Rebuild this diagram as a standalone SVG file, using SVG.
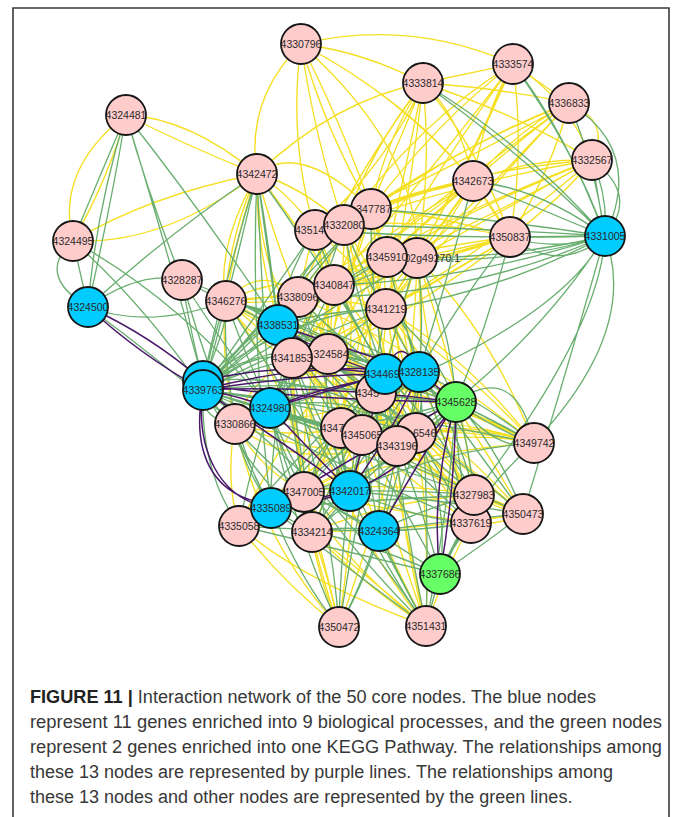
<svg xmlns="http://www.w3.org/2000/svg" width="673" height="817" viewBox="0 0 673 817">
<style>
.y{fill:none;stroke:#F5DF22;stroke-width:1.35}
.g{fill:none;stroke:#68AE6E;stroke-width:1.3}
.p{fill:none;stroke:#4A1769;stroke-width:1.5}
circle{stroke:#161616;stroke-width:1.8}
.pk{fill:#FFCCCC}.bl{fill:#00CCFF}.gr{fill:#66FF66}
.lb{font-family:"Liberation Sans",Arial,sans-serif;font-size:10.5px;fill:#2a2a2a;text-anchor:middle}
.ls{text-anchor:start}.le{text-anchor:end}
.cap{font-family:"Liberation Sans",Arial,sans-serif;font-size:18px;fill:#383838}
</style>
<rect width="673" height="817" fill="#fff"/>
<path d="M13 817V8H669V817" fill="none" stroke="#3a3a3a" stroke-width="1.6"/>

<g id="connectors">
<g class="y">
<path d="M301 44Q365 52 423 83M301 44Q410 18 513 64M301 44Q245 100 257 174M301 44Q325 130 371 209M301 44Q315 140 344 225M301 44Q400 95 473 181M301 44Q445 120 510 237M301 44Q355 150 387 257M301 44Q288 140 315 230M301 44Q420 150 417 258"/>
<path d="M423 83L513 64M423 83Q500 88 569 103M423 83Q520 115 592 160M423 83Q460 115 473 181M423 83Q480 150 510 237M423 83Q385 140 371 209M423 83Q370 150 344 225M423 83Q405 170 387 257M423 83Q432 170 417 258M423 83Q410 200 386 309M423 83Q335 100 257 174M423 83Q350 180 298 297M423 83Q380 190 334 285M423 83Q390 160 315 230"/>
<path d="M513 64L569 103M513 64Q568 98 592 160M513 64Q485 110 473 181M513 64Q525 150 510 237M513 64Q440 118 371 209M513 64Q450 150 387 257M513 64Q470 160 417 258M513 64Q462 185 386 309M513 64Q420 120 344 225M513 64Q440 160 334 285"/>
<path d="M569 103Q612 122 592 160M569 103Q520 128 473 181M569 103Q552 170 510 237M569 103Q470 140 371 209M569 103Q480 170 387 257M569 103Q500 178 417 258M569 103Q480 200 386 309M569 103Q450 150 344 225M569 103Q450 190 334 285M569 103Q430 180 315 230"/>
<path d="M592 160Q530 158 473 181M592 160Q560 200 510 237M592 160Q480 168 371 209M592 160Q490 200 387 257M592 160Q505 210 417 258M592 160Q500 240 386 309M592 160Q470 180 344 225M592 160Q470 230 334 285M592 160Q460 210 298 297"/>
<path d="M473 181L510 237M473 181Q420 188 371 209M473 181Q410 192 344 225M473 181Q430 220 387 257M473 181L417 258M473 181Q440 240 386 309M473 181Q400 232 334 285M473 181Q390 232 298 297M473 181Q390 198 315 230M473 181Q420 262 328 354"/>
<path d="M510 237Q440 215 371 209M510 237Q430 218 344 225M510 237Q450 245 387 257M510 237L417 258M510 237Q452 272 386 309M510 237Q420 262 334 285M510 237Q400 272 298 297M510 237Q430 300 328 354M510 237Q410 300 292 358"/>
<path d="M257 174Q235 240 226 301M257 174Q272 232 298 297M257 174Q288 192 315 230M257 174Q300 185 344 225M257 174Q300 140 371 209M257 174Q190 118 126 115M257 174Q185 145 126 115M257 174Q150 195 73 241M257 174Q165 245 73 241M257 174Q255 270 292 358M257 174Q300 228 334 285M257 174Q205 290 235 424M257 174Q215 250 226 301M257 174Q258 300 328 354"/>
<path d="M126 115Q55 170 73 241M126 115Q110 175 73 241"/>
<path d="M226 301Q262 262 298 297M226 301Q280 275 334 285M226 301Q275 335 328 354M226 301Q305 290 386 309M226 301Q255 345 292 358M226 301Q300 340 376 393M226 301Q300 360 362 435M226 301Q300 330 341 428M226 301Q320 310 417 258M226 301Q300 300 387 257"/>
<path d="M235 424Q290 440 341 428M235 424Q320 460 397 446M235 424Q260 470 304 492M235 424Q225 480 239 526M235 424Q260 540 339 627M235 424Q250 380 292 358M235 424Q290 390 328 354M235 424Q300 480 416 433"/>
<path d="M315 230Q360 265 386 309M315 230Q295 295 292 358M315 230Q330 290 328 354M315 230Q355 310 376 393M315 230Q350 330 362 435M344 225Q370 265 386 309M344 225Q345 290 328 354M344 225Q370 310 376 393M344 225Q390 330 397 446M344 225Q310 300 292 358M371 209Q385 255 386 309M371 209Q345 280 328 354M371 209Q385 300 376 393M371 209Q375 330 362 435M371 209Q410 320 416 433M371 209Q330 250 298 297"/>
<path d="M387 257Q355 300 328 354M387 257Q335 300 292 358M387 257Q355 340 341 428M387 257Q405 350 397 446M387 257Q360 380 304 492M417 258Q405 280 386 309M417 258Q400 320 376 393M417 258Q415 350 397 446M417 258Q425 340 416 433M417 258Q460 380 474 495M417 258Q490 330 534 443M417 258Q380 290 334 285"/>
<path d="M334 285Q300 320 292 358M334 285Q365 340 376 393M334 285Q325 360 341 428M334 285Q300 390 304 492M334 285Q300 410 312 532M298 297Q320 320 328 354M298 297Q345 340 376 393M298 297Q335 370 362 435M386 309Q385 350 376 393M386 309Q400 380 397 446M386 309Q410 370 416 433M386 309Q440 410 471 523M386 309Q470 360 534 443"/>
<path d="M292 358Q330 390 362 435M292 358Q290 420 304 492M292 358Q295 450 312 532M292 358Q400 400 474 495M328 354Q370 400 397 446M328 354Q385 380 416 433M328 354Q410 440 471 523M328 354Q320 440 312 532M376 393Q330 440 304 492M376 393Q340 460 312 532M376 393Q430 430 474 495M376 393Q450 450 523 514"/>
<path d="M341 428Q410 450 474 495M341 428Q430 480 523 514M341 428Q440 410 534 443M362 435Q450 425 534 443M362 435Q420 490 471 523M362 435Q440 480 523 514M362 435Q350 540 339 627M397 446Q470 430 534 443M397 446Q460 490 523 514M397 446Q370 540 339 627M397 446Q350 490 312 532M416 433Q480 425 534 443M416 433Q450 480 471 523M416 433Q470 470 523 514"/>
<path d="M304 492Q390 480 474 495M304 492Q390 510 471 523M304 492Q420 450 534 443M304 492Q315 560 339 627M239 526Q280 580 339 627M239 526Q320 480 397 446M239 526Q300 400 386 309M312 532Q390 500 474 495M312 532Q420 530 523 514M312 532Q330 580 339 627M312 532Q370 590 426 626"/>
<path d="M474 495Q500 500 523 514M474 495Q500 510 523 514M471 523Q500 515 523 514M471 523Q497 526 523 514M534 443Q400 380 292 358M534 443Q430 390 328 354M534 443Q420 350 298 297M534 443Q440 340 334 285M534 443Q460 400 376 393M534 443Q470 420 416 433"/>
<path d="M339 627Q300 540 292 358M339 627Q325 560 304 492M426 626Q340 560 304 492M426 626Q360 570 312 532M426 626Q400 530 397 446M426 626Q390 520 362 435M426 626Q370 520 341 428M426 626Q400 500 376 393M426 626Q340 520 292 358M426 626Q300 580 239 526M426 626Q430 520 416 433M426 626Q450 560 471 523"/>
<path d="M315 230Q330 320 341 428M344 225Q360 330 341 428M371 209Q350 300 292 358M387 257Q420 350 416 433M417 258Q430 380 471 523M334 285Q400 360 416 433M298 297Q360 380 397 446M292 358Q360 420 416 433M328 354Q340 400 362 435M376 393Q390 410 397 446M341 428Q320 470 304 492M362 435Q330 480 312 532M416 433Q350 470 304 492M397 446Q440 460 474 495M386 309Q470 420 523 514M328 354Q440 420 523 514M292 358Q420 430 471 523M235 424Q330 420 376 393M226 301Q300 400 304 492M239 526Q330 440 416 433"/>
</g>
<g class="g">
<path d="M605 236Q520 140 423 83M423 83Q530 160 605 236M605 236Q565 130 513 64M513 64Q575 150 605 236M605 236Q595 165 569 103M605 236Q645 150 569 103M605 236L592 160M605 236Q608 195 592 160M605 236Q640 195 592 160M605 236Q540 188 473 181M605 236Q530 205 473 181M605 236L510 237M605 236Q555 252 510 237M605 236Q560 275 510 237"/>
<path d="M605 236Q490 218 371 209M605 236Q480 228 344 225M605 236Q510 258 417 258M605 236Q500 268 387 257M605 236Q500 292 386 309M605 236Q470 280 334 285M605 236Q460 300 298 297M605 236Q460 240 315 230M605 236Q640 330 534 443M605 236Q600 330 474 495M605 236Q560 320 376 393M605 236Q540 340 416 433M605 236Q570 360 523 514"/>
<path d="M88 307Q112 200 126 115M88 307Q96 210 126 115M88 307Q35 275 73 241M88 307L73 241M88 307Q170 232 257 174M88 307Q140 270 182 280M88 307Q150 330 226 301M88 307Q160 360 235 424"/>
<path d="M126 115Q98 180 73 241M126 115Q150 200 182 280M126 115Q205 215 278 325M126 115Q170 260 203 381M73 241Q140 300 203 390M73 241Q180 300 270 408"/>
<path d="M257 174L278 325M257 174Q225 280 203 381M257 174Q230 290 203 390M257 174Q262 300 270 408M257 174Q320 260 385 374M257 174Q270 250 278 325M257 174Q250 330 271 508"/>
<path d="M182 280Q230 295 278 325M182 280Q190 330 203 381M182 280Q220 340 270 408M182 280Q215 400 271 508M182 280Q280 330 385 374M226 301Q252 305 278 325M226 301Q210 345 203 390M226 301Q245 355 270 408M226 301Q290 400 350 491M226 301Q310 320 385 374M226 301Q320 320 419 372M226 301Q220 420 271 508"/>
<path d="M278 325Q285 275 315 230M278 325Q300 270 344 225M278 325Q320 260 371 209M278 325Q330 285 387 257M278 325Q345 280 417 258M278 325Q330 310 386 309M278 325Q300 330 328 354M278 325L298 297M278 325Q310 300 334 285M278 325Q330 360 376 393M278 325Q310 380 341 428M278 325Q320 385 362 435M278 325Q350 390 397 446M278 325Q360 380 416 433M278 325Q290 410 304 492M278 325Q300 430 312 532M278 325Q380 410 474 495M278 325Q380 440 471 523M278 325Q420 380 534 443M278 325Q410 420 523 514M278 325Q330 500 339 627"/>
<path d="M203 390Q260 330 298 297M203 390Q270 330 334 285M203 390Q250 350 292 358M203 390Q265 360 328 354M203 390Q300 340 386 309M203 390Q290 380 376 393M203 390Q270 410 341 428M203 390Q290 420 362 435M203 390Q300 420 397 446M203 390Q310 405 416 433M203 390Q370 410 534 443M203 390Q250 450 304 492M203 390Q250 470 312 532M203 390Q340 450 474 495M203 390Q340 470 471 523M203 390Q260 310 315 230M203 390Q280 300 344 225M203 390Q290 290 371 209M203 390Q300 310 387 257M203 390Q310 320 417 258M203 390Q200 420 235 424M203 390Q200 470 239 526M203 390Q360 440 523 514M203 390Q330 480 426 626"/>
<path d="M203 381Q230 320 226 301M203 381Q270 320 298 297M203 381Q300 310 386 309M203 381Q280 340 328 354M203 381Q320 370 416 433"/>
<path d="M385 374Q340 300 315 230M385 374Q355 300 344 225M385 374Q370 290 371 209M385 374Q360 330 334 285M385 374Q330 330 298 297M385 374Q300 320 226 301M385 374Q330 360 292 358M385 374Q360 400 341 428M385 374Q330 430 304 492M385 374Q340 460 312 532M385 374Q300 450 239 526M385 374Q300 400 235 424M385 374Q440 430 474 495M385 374Q430 460 471 523M385 374Q400 500 426 626M385 374Q460 400 534 443M385 374Q400 310 417 258M385 374Q380 420 397 446M385 374Q360 500 339 627"/>
<path d="M419 372Q410 320 386 309M419 372Q425 310 417 258M419 372Q400 310 387 257M419 372Q460 300 510 237M419 372Q450 270 473 181M419 372Q420 410 397 446M419 372Q425 400 416 433M419 372Q460 430 474 495M419 372Q450 450 471 523M419 372Q470 440 523 514M419 372Q480 400 534 443M419 372Q430 500 426 626M419 372Q360 430 304 492M419 372Q370 450 312 532M419 372Q370 360 328 354M419 372Q360 340 292 358M419 372Q360 270 344 225M419 372Q400 400 376 393M419 372Q390 540 339 627"/>
<path d="M456 402Q515 360 534 443M456 402Q495 430 534 443M456 402Q500 455 534 443M456 402Q470 450 474 495M456 402Q455 460 471 523M456 402Q500 450 523 514M456 402Q425 440 397 446M456 402Q430 410 416 433M456 402Q410 400 376 393M456 402Q410 420 362 435M456 402Q450 500 426 626M456 402Q430 340 386 309M456 402Q450 320 417 258M456 402Q490 320 510 237M456 402Q400 470 304 492M456 402Q380 480 312 532M456 402Q420 370 328 354M456 402Q380 380 292 358M456 402Q390 420 341 428"/>
<path d="M270 408Q290 360 298 297M270 408Q285 380 292 358M270 408Q300 370 328 354M270 408Q320 380 376 393M270 408Q300 420 341 428M270 408Q320 430 362 435M270 408Q330 440 397 446M270 408Q280 450 304 492M270 408Q285 470 312 532M270 408Q250 470 239 526M270 408Q300 350 334 285M270 408Q320 350 386 309M270 408Q290 520 339 627M270 408Q380 440 474 495M270 408L235 424M270 408Q320 300 344 225M270 408Q350 390 416 433"/>
<path d="M350 491Q340 460 341 428M350 491Q360 460 362 435M350 491Q380 470 397 446M350 491Q390 460 416 433M350 491Q320 420 328 354M350 491Q310 420 292 358M350 491Q330 380 298 297M350 491Q370 400 386 309M350 491Q330 520 312 532M350 491Q420 490 474 495M350 491Q420 520 471 523M350 491Q440 500 523 514M350 491Q380 560 426 626M350 491Q340 560 339 627M350 491Q330 485 304 492M350 491Q440 450 534 443M350 491Q360 390 376 393"/>
<path d="M271 508Q290 500 304 492M271 508Q290 520 312 532M271 508Q255 520 239 526M271 508Q300 580 339 627M271 508Q350 570 426 626M271 508Q240 460 235 424M271 508Q270 430 292 358M271 508Q320 450 376 393M271 508Q320 470 362 435M271 508Q300 460 341 428M271 508Q370 500 474 495"/>
<path d="M379 531Q345 525 312 532M379 531Q340 510 304 492M379 531Q390 490 397 446M379 531Q410 480 416 433M379 531Q370 480 362 435M379 531Q420 510 474 495M379 531Q425 530 471 523M379 531Q450 520 523 514M379 531Q400 580 426 626M379 531Q360 590 339 627M379 531Q300 530 239 526M379 531Q380 450 376 393"/>
<path d="M440 574L426 626M440 574Q450 550 471 523M440 574Q460 540 474 495M440 574Q490 540 523 514M440 574Q420 500 397 446M440 574Q400 500 362 435M440 574Q360 540 312 532M440 574Q360 520 304 492M440 574Q450 500 416 433M440 574Q470 500 534 443M440 574Q300 540 239 526M426 626Q300 500 270 408M426 626Q330 450 278 325"/>
</g>
<g class="p">
<path d="M88 307Q140 355 203 390M88 307Q150 335 203 381M203 390Q237 395 270 408M203 390Q295 375 385 374M203 390Q310 360 419 372M203 390Q330 385 456 402M203 385Q300 400 456 402M203 390Q280 440 350 491M203 390C195 450 220 500 271 508M203 390C185 480 240 530 350 491"/>
<path d="M270 408Q310 450 350 491M270 408Q330 390 385 374M270 408Q340 380 419 372M271 508Q310 500 350 491M350 491Q370 420 385 374M350 491Q400 420 419 372M350 491Q410 470 456 402M456 402Q430 490 440 574M456 402Q455 490 440 574M379 531Q420 460 456 402M419 372L456 402M385 374Q400 330 419 372M278 325Q330 360 385 374M278 325Q350 350 419 372M203 381Q290 360 385 374M271 508Q380 440 456 402"/>
</g>
</g>

<g id="nodes">
<g id="n4330796"><circle cx="301" cy="44" r="20" class="pk"/><text class="lb" x="301" y="47.7">4330796</text></g>
<g id="n4333574"><circle cx="513" cy="64" r="20" class="pk"/><text class="lb" x="513" y="67.7">4333574</text></g>
<g id="n4333814"><circle cx="423" cy="83" r="20" class="pk"/><text class="lb" x="423" y="86.7">4333814</text></g>
<g id="n4336833"><circle cx="569" cy="103" r="20" class="pk"/><text class="lb" x="569" y="106.7">4336833</text></g>
<g id="n4324481"><circle cx="126" cy="115" r="20" class="pk"/><text class="lb" x="126" y="118.7">4324481</text></g>
<g id="n4332567"><circle cx="592" cy="160" r="20" class="pk"/><text class="lb" x="592" y="163.7">4332567</text></g>
<g id="n4342472"><circle cx="257" cy="174" r="20" class="pk"/><text class="lb" x="257" y="177.7">4342472</text></g>
<g id="n4342673"><circle cx="473" cy="181" r="20" class="pk"/><text class="lb" x="473" y="184.7">4342673</text></g>
<g id="n43514"><circle cx="315" cy="230" r="20" class="pk"/><text class="lb ls" x="295" y="233.7">43514</text></g>
<g id="n4347787"><circle cx="371" cy="209" r="20" class="pk"/><text class="lb le" x="391.3" y="212.7">347787</text></g>
<g id="n4332080"><circle cx="344" cy="225" r="20" class="pk"/><text class="lb" x="344" y="228.7">4332080</text></g>
<g id="n4350837"><circle cx="510" cy="237" r="20" class="pk"/><text class="lb" x="510" y="240.7">4350837</text></g>
<g id="n4331005"><circle cx="605" cy="236" r="20" class="bl"/><text class="lb" x="605" y="239.7">4331005</text></g>
<g id="n4324495"><circle cx="73" cy="241" r="20" class="pk"/><text class="lb" x="73" y="244.7">4324495</text></g>
<g id="n02g49270"><circle cx="417" cy="258" r="20" class="pk"/><text class="lb le" x="460" y="261.7">02g49270.1</text></g>
<g id="n4345910"><circle cx="387" cy="257" r="20" class="pk"/><text class="lb" x="387" y="260.7">4345910</text></g>
<g id="n4328287"><circle cx="182" cy="280" r="20" class="pk"/><text class="lb" x="182" y="283.7">4328287</text></g>
<g id="n4346276"><circle cx="226" cy="301" r="20" class="pk"/><text class="lb" x="226" y="304.7">4346276</text></g>
<g id="n4324500"><circle cx="88" cy="307" r="20" class="bl"/><text class="lb" x="88" y="310.7">4324500</text></g>
<g id="n4338096"><circle cx="298" cy="297" r="20" class="pk"/><text class="lb" x="298" y="300.7">4338096</text></g>
<g id="n4340847"><circle cx="334" cy="285" r="20" class="pk"/><text class="lb" x="334" y="288.7">4340847</text></g>
<g id="n4341219"><circle cx="386" cy="309" r="20" class="pk"/><text class="lb" x="386" y="312.7">4341219</text></g>
<g id="n4338531"><circle cx="278" cy="325" r="20" class="bl"/><text class="lb" x="278" y="328.7">4338531</text></g>
<g id="n4324584"><circle cx="328" cy="354" r="20" class="pk"/><text class="lb le" x="348.5" y="357.7">324584</text></g>
<g id="n4341853"><circle cx="292" cy="358" r="20" class="pk"/><text class="lb" x="292" y="361.7">4341853</text></g>
<g id="n4339763b"><circle cx="203" cy="381" r="20" class="bl"/></g>
<g id="n4339763"><circle cx="203" cy="390" r="20" class="bl"/><text class="lb" x="203" y="393.7">4339763</text></g>
<g id="n4345x"><circle cx="376" cy="393" r="20" class="pk"/><text class="lb ls" x="355.7" y="396.7">4345</text></g>
<g id="n434469"><circle cx="385" cy="374" r="20" class="bl"/><text class="lb ls" x="364.7" y="377.7">434469</text></g>
<g id="n4328135"><circle cx="419" cy="372" r="20" class="bl"/><text class="lb" x="419" y="375.7">4328135</text></g>
<g id="n4345628"><circle cx="456" cy="402" r="20" class="gr"/><text class="lb" x="456" y="405.7">4345628</text></g>
<g id="n4330866"><circle cx="235" cy="424" r="20" class="pk"/><text class="lb" x="235" y="427.7">4330866</text></g>
<g id="n4324980"><circle cx="270" cy="408" r="20" class="bl"/><text class="lb" x="270" y="411.7">4324980</text></g>
<g id="n4347x"><circle cx="341" cy="428" r="20" class="pk"/><text class="lb ls" x="320.7" y="431.7">4347</text></g>
<g id="n4345065"><circle cx="362" cy="435" r="20" class="pk"/><text class="lb" x="362" y="438.7">4345065</text></g>
<g id="n6546"><circle cx="416" cy="433" r="20" class="pk"/><text class="lb le" x="436.3" y="436.7">6546</text></g>
<g id="n4343196"><circle cx="397" cy="446" r="20" class="pk"/><text class="lb" x="397" y="449.7">4343196</text></g>
<g id="n4349742"><circle cx="534" cy="443" r="20" class="pk"/><text class="lb" x="534" y="446.7">4349742</text></g>
<g id="n4347005"><circle cx="304" cy="492" r="20" class="pk"/><text class="lb" x="304" y="495.7">4347005</text></g>
<g id="n4335058"><circle cx="239" cy="526" r="20" class="pk"/><text class="lb" x="239" y="529.7">4335058</text></g>
<g id="n4335089"><circle cx="271" cy="508" r="20" class="bl"/><text class="lb" x="271" y="511.7">4335089</text></g>
<g id="n4342017"><circle cx="350" cy="491" r="20" class="bl"/><text class="lb" x="350" y="494.7">4342017</text></g>
<g id="n4334214"><circle cx="312" cy="532" r="20" class="pk"/><text class="lb" x="312" y="535.7">4334214</text></g>
<g id="n4324364"><circle cx="379" cy="531" r="20" class="bl"/><text class="lb" x="379" y="534.7">4324364</text></g>
<g id="n4337619"><circle cx="471" cy="523" r="20" class="pk"/><text class="lb" x="471" y="526.7">4337619</text></g>
<g id="n4327983"><circle cx="474" cy="495" r="20" class="pk"/><text class="lb" x="474" y="498.7">4327983</text></g>
<g id="n4350473"><circle cx="523" cy="514" r="20" class="pk"/><text class="lb" x="523" y="517.7">4350473</text></g>
<g id="n4337686"><circle cx="440" cy="574" r="20" class="gr"/><text class="lb" x="440" y="577.7">4337686</text></g>
<g id="n4350472"><circle cx="339" cy="627" r="20" class="pk"/><text class="lb" x="339" y="630.7">4350472</text></g>
<g id="n4351431"><circle cx="426" cy="626" r="20" class="pk"/><text class="lb" x="426" y="629.7">4351431</text></g>
</g>

<g id="caption" class="cap">
<text x="30" y="703" textLength="566" lengthAdjust="spacingAndGlyphs"><tspan font-weight="bold" fill="#222">FIGURE 11 |</tspan> Interaction network of the 50 core nodes. The blue nodes</text>
<text x="30" y="728" textLength="632" lengthAdjust="spacingAndGlyphs">represent 11 genes enriched into 9 biological processes, and the green nodes</text>
<text x="30" y="753" textLength="632" lengthAdjust="spacingAndGlyphs">represent 2 genes enriched into one KEGG Pathway. The relationships among</text>
<text x="30" y="778">these 13 nodes are represented by purple lines. The relationships among</text>
<text x="30" y="803">these 13 nodes and other nodes are represented by the green lines.</text>
</g>
</svg>
